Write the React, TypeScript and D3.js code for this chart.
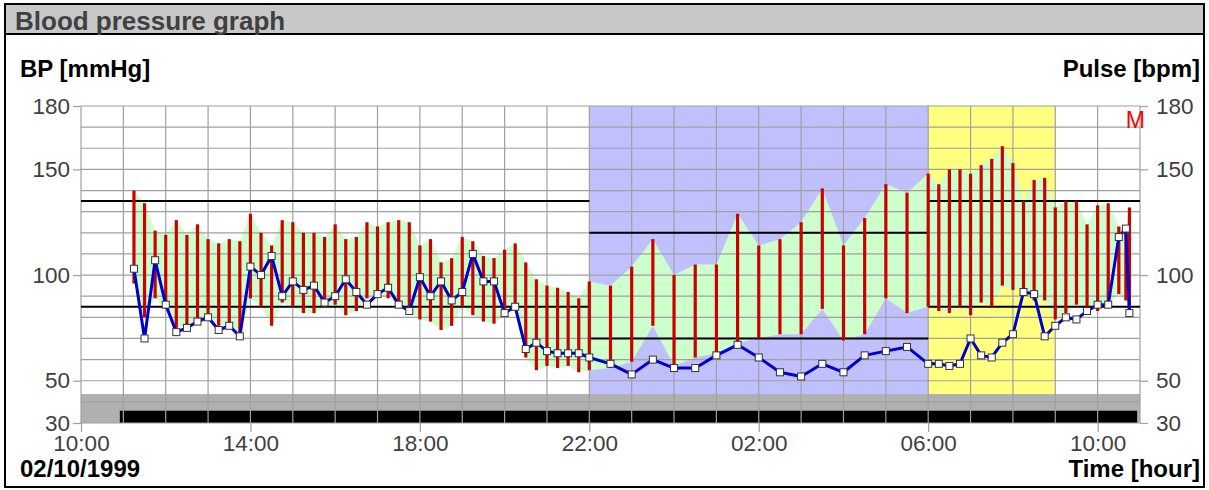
import React, { useEffect, useRef } from 'react'
import * as d3 from 'd3'

// measurement times (clock time, rolls over past midnight)
const startDay = '02/10/1999'
const times = [
  '11:15', '11:30', '11:45', '12:00', '12:15', '12:30', '12:45', '13:00', '13:15', '13:30', '13:45',
  '14:00', '14:15', '14:30', '14:45', '15:00', '15:15', '15:30', '15:45', '16:00', '16:15', '16:30',
  '16:45', '17:00', '17:15', '17:30', '17:45', '18:00', '18:15', '18:30', '18:45', '19:00', '19:15',
  '19:30', '19:45', '20:00', '20:15', '20:30', '20:45', '21:00', '21:15', '21:30', '21:45', '22:00',
  '22:30', '23:00', '23:30', '00:00', '00:30', '01:00', '01:30', '02:00', '02:30', '03:00', '03:30',
  '04:00', '04:30', '05:00', '05:30', '06:00',
  '06:15', '06:30', '06:45', '07:00', '07:15', '07:30', '07:45', '08:00', '08:15', '08:30', '08:45',
  '09:00', '09:15', '09:30', '09:45', '10:00', '10:15', '10:30', '10:40', '10:45',
]

const systolic = [
  140, 134, 121, 119, 126, 119, 124, 117, 115, 117, 116,
  129, 120, 114, 126, 125, 120, 120, 118, 124, 117, 118,
  125, 123, 125, 126, 125, 114, 117, 106, 108, 118, 116,
  109, 108, 112, 115, 106, 98, 95, 94, 92, 89, 97,
  95, 104, 117, 100, 105, 105, 129, 114, 117, 125, 141,
  114, 127, 143, 139, 148,
  143, 150, 150, 148, 152, 155, 161, 153, 135, 145, 146,
  132, 135, 135, 124, 133, 134, 123, 121, 132,
]

const diastolic = [
  96, 80, 89, 84, 75, 76, 78, 80, 76, 77, 72,
  89, 85, 76, 87, 85, 82, 82, 85, 86, 81, 83,
  89, 90, 89, 87, 83, 79, 78, 74, 76, 85, 81,
  78, 77, 81, 85, 61, 55, 57, 56, 57, 54, 55,
  56, 59, 76, 57, 61, 63, 68, 70, 72, 72, 84,
  69, 72, 89, 82, 85,
  83, 82, 85, 81, 87, 85, 95, 93, 93, 88, 88,
  79, 82, 86, 85, 83, 86, 91, 88, 81,
]

const pulse = [
  103, 70, 107, 86, 73, 75, 78, 80, 74, 76, 71,
  104, 100, 109, 90, 97, 93, 95, 87, 90, 98, 92,
  86, 91, 94, 86, 83, 99, 90, 97, 88, 92, 110,
  97, 97, 82, 85, 65, 68, 64, 63, 63, 63, 61,
  58, 53, 60, 56, 56, 62, 67, 61, 54, 52, 58,
  54, 62, 64, 66, 58,
  58, 57, 58, 70, 62, 61, 68, 72, 92, 91, 71,
  76, 80, 79, 83, 86, 86, 118, 122, 82,
]

const xDomain = ['02/10/1999 10:00', '03/10/1999 11:00']
const xTickLabels = ['10:00', '14:00', '18:00', '22:00', '02:00', '06:00', '10:00']
const yTicks = [30, 50, 100, 150, 180]

const nightPeriod = ['02/10/1999 22:00', '03/10/1999 06:00']
const wakePeriod = ['03/10/1999 06:00', '03/10/1999 09:00']
const recordingPeriod = ['02/10/1999 10:55', '03/10/1999 10:56']

const limitStarts = ['02/10/1999 10:00', '02/10/1999 22:00', '03/10/1999 06:00']
const limitEnds = ['02/10/1999 22:00', '03/10/1999 06:00', '03/10/1999 11:00']
const limitSystolic = [135, 120, 135]
const limitDiastolic = [85, 70, 85]

const parseFull = d3.timeParse('%d/%m/%Y %H:%M')

function sequentialDates(list: string[]) {
  let day = parseFull(startDay + ' 00:00') as Date
  let prev = -1
  return list.map(t => {
    const [h, m] = t.split(':').map(Number)
    const mins = h * 60 + m
    if (mins < prev) day = d3.timeDay.offset(day, 1)
    prev = mins
    return d3.timeMinute.offset(day, mins)
  })
}

const FONT = '"Liberation Sans", Arial, sans-serif'

export default function App() {
  const svgRef = useRef<SVGSVGElement>(null)

  useEffect(() => {
    if (!svgRef.current) return
    const root = d3.select(svgRef.current)
    root.selectAll('*').remove()

    const W = 1209
    const H = 490
    root.attr('width', W).attr('height', H).style('font-family', FONT)

    const plot = { left: 81, right: 1140, top: 106, bottom: 423 }
    const bandTop = 43.7
    const recordTop = 35.8

    const x = d3.scaleTime()
      .domain(xDomain.map(s => parseFull(s) as Date))
      .range([plot.left, plot.right])
    const y = d3.scaleLinear().domain([30, 180]).range([plot.bottom, plot.top])

    const dates = sequentialDates(times)
    const data = dates.map((d, i) => ({ t: d, sys: systolic[i], dia: diastolic[i], pulse: pulse[i] }))

    // frame and title bar
    root.append('rect')
      .attr('x', 5).attr('y', 4).attr('width', 1199).attr('height', 483)
      .attr('fill', '#fff').attr('stroke', '#000').attr('stroke-width', 2)
    root.append('rect')
      .attr('x', 5).attr('y', 4).attr('width', 1199).attr('height', 30)
      .attr('fill', '#c8c8c8').attr('stroke', '#000').attr('stroke-width', 2)
    root.append('text')
      .attr('x', 15).attr('y', 30)
      .attr('fill', '#404040')
      .style('font-size', '26px').style('font-weight', 'bold')
      .text('Blood pressure graph')

    const g = root.append('g')

    // night / wake shading
    const shade = (period: string[], color: string) => {
      const [a, b] = period.map(s => parseFull(s) as Date)
      g.append('rect')
        .attr('x', x(a)).attr('y', y(180))
        .attr('width', x(b) - x(a)).attr('height', y(bandTop) - y(180))
        .attr('fill', color)
    }
    shade(nightPeriod, '#c0c0ff')
    shade(wakePeriod, '#ffff80')

    // systolic-diastolic band
    const area = d3.area<typeof data[0]>()
      .x(d => x(d.t))
      .y0(d => y(d.dia))
      .y1(d => y(d.sys))
    g.append('path').datum(data).attr('d', area).attr('fill', '#ccffcc')

    // gray strip and recording bar
    g.append('rect')
      .attr('x', plot.left).attr('y', y(bandTop))
      .attr('width', plot.right - plot.left).attr('height', y(30) - y(bandTop))
      .attr('fill', '#b0b0b0')
    const [r0, r1] = recordingPeriod.map(s => parseFull(s) as Date)
    g.append('rect')
      .attr('x', x(r0)).attr('y', y(recordTop))
      .attr('width', x(r1) - x(r0)).attr('height', y(30) - y(recordTop))
      .attr('fill', '#000')

    // grid
    const [d0, d1] = x.domain()
    const hours = d3.timeHour.range(d0, d3.timeMinute.offset(d1, 1))
    g.append('g').selectAll('line').data(hours).enter().append('line')
      .attr('x1', d => x(d)).attr('x2', d => x(d))
      .attr('y1', plot.top).attr('y2', plot.bottom)
      .attr('stroke', '#a0a0a0').attr('stroke-width', 1.2)
    g.append('g').selectAll('line').data(d3.range(30, 181, 10)).enter().append('line')
      .attr('x1', plot.left).attr('x2', plot.right)
      .attr('y1', d => y(d)).attr('y2', d => y(d))
      .attr('stroke', '#a0a0a0').attr('stroke-width', 1.2)

    // axes
    const styleAxis = (sel: any) => {
      sel.selectAll('.domain').remove()
      sel.selectAll('.tick line').attr('stroke', '#a0a0a0').attr('stroke-width', 1.2)
      sel.selectAll('.tick text').attr('fill', '#404040').style('font-size', '22.5px').style('font-family', FONT)
    }
    const tickDates = sequentialDates(xTickLabels)
    tickDates[0] = d0
    g.append('g')
      .attr('transform', `translate(0,${plot.bottom})`)
      .call(d3.axisBottom(x).tickValues(tickDates).tickFormat((d: any, i: number) => xTickLabels[i]).tickSize(9).tickPadding(3.5))
      .call(styleAxis)
    g.append('g')
      .attr('transform', `translate(${plot.left},0)`)
      .call(d3.axisLeft(y).tickValues(yTicks).tickSize(8).tickPadding(3))
      .call(styleAxis)
    g.append('g')
      .attr('transform', `translate(${plot.right},0)`)
      .call(d3.axisRight(y).tickValues(yTicks).tickSize(8).tickPadding(8))
      .call(styleAxis)

    // limit lines
    limitStarts.forEach((s, i) => {
      const a = x(parseFull(s) as Date)
      const b = x(parseFull(limitEnds[i]) as Date)
      ;[limitSystolic[i], limitDiastolic[i]].forEach(v => {
        g.append('line')
          .attr('x1', a).attr('x2', b).attr('y1', y(v)).attr('y2', y(v))
          .attr('stroke', '#000').attr('stroke-width', 2)
      })
    })

    // pressure bars
    g.append('g').selectAll('line').data(data).enter().append('line')
      .attr('x1', d => x(d.t)).attr('x2', d => x(d.t))
      .attr('y1', d => y(d.sys)).attr('y2', d => y(d.dia))
      .attr('stroke', '#cc0000').attr('stroke-width', 3.2)

    // pulse
    const line = d3.line<typeof data[0]>().x(d => x(d.t)).y(d => y(d.pulse))
    g.append('path').datum(data).attr('d', line)
      .attr('fill', 'none').attr('stroke', '#0000cc').attr('stroke-width', 3)
      .attr('stroke-linejoin', 'round')
    g.append('g').selectAll('rect').data(data).enter().append('rect')
      .attr('x', d => x(d.t) - 3.5).attr('y', d => y(d.pulse) - 3.5)
      .attr('width', 7).attr('height', 7)
      .attr('fill', '#fff').attr('stroke', '#333').attr('stroke-width', 1)

    // labels
    const label = (txt: string, px: number, py: number, anchor: string, weight: string, size: number, color = '#000') =>
      root.append('text').attr('x', px).attr('y', py).attr('text-anchor', anchor)
        .attr('fill', color).style('font-size', size + 'px').style('font-weight', weight).text(txt)
    label('BP [mmHg]', 20, 77, 'start', 'bold', 24)
    label('Pulse [bpm]', 1200, 77, 'end', 'bold', 24)
    label(startDay, 20, 477, 'start', 'bold', 24)
    label('Time [hour]', 1200, 477, 'end', 'bold', 24)
    label('M', 1145, 128, 'end', 'normal', 23, '#ff0000')
  }, [])

  return (
    <div style={{ position: 'absolute', left: 0, top: 0 }}>
      <svg ref={svgRef}></svg>
    </div>
  )
}
